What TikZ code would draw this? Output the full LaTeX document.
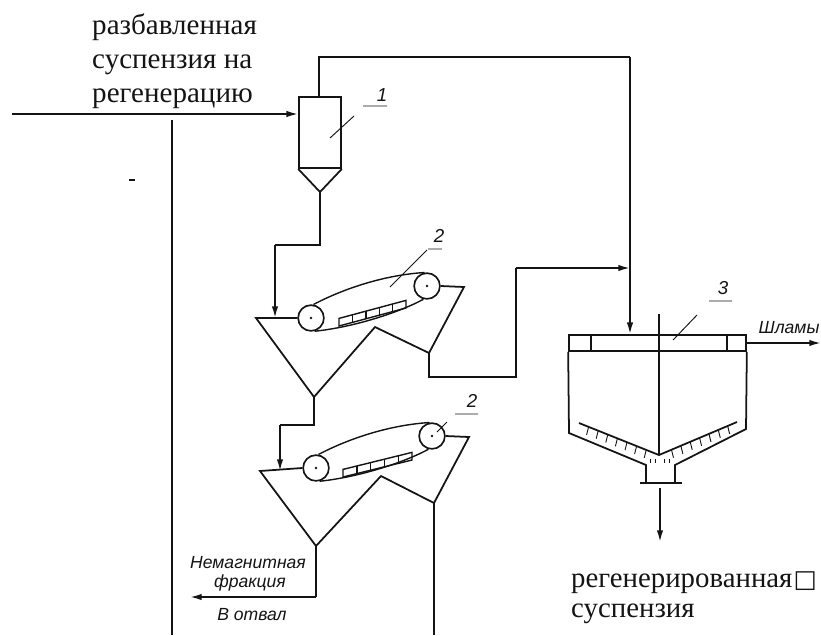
\documentclass[tikz,border=0pt]{standalone}
\usepackage{fontspec}
\setmainfont{Liberation Serif}
\newfontfamily\drawfont{Liberation Sans}
\newfontfamily\boxfont{DejaVu Sans}
\usepackage{xcolor}
\usetikzlibrary{arrows.meta,positioning,calc}
\definecolor{inkblack}{RGB}{20,20,20}
\tikzset{
  flow/.style={line width=1.5pt, inkblack},
  flowin/.style={flow, -{Latex[length=10pt,width=5.5pt]}},
  thinline/.style={line width=0.8pt, inkblack},
  beltline/.style={line width=1.2pt, inkblack},
  roller/.style={circle, draw=inkblack, line width=1.4pt, minimum size=22pt, inner sep=0pt, fill=white},
  caption/.style={font=\fontsize{24.8}{29}\selectfont, align=left, anchor=west, inner sep=0pt, inkblack},
  handtext/.style={font=\drawfont\itshape\fontsize{15}{18}\selectfont, inner sep=0pt, inkblack},
  numlabel/.style={font=\drawfont\itshape\fontsize{16}{19}\selectfont, inner sep=0pt, inkblack}
}
\newcommand{\bucketstrip}[2]{
  \draw[beltline] (#1) -- (#2) -- ([yshift=6.5pt]#2) -- ([yshift=6.5pt]#1) -- cycle;
  \foreach \p in {0.2,0.4,0.6,0.8} \draw[beltline] ($(#1)!\p!(#2)$) -- ++(0,-7.6);
}
\begin{document}
\begin{tikzpicture}[x=0.03cm, y=-0.03cm]
\useasboundingbox (0,0) rectangle (821,635);
\node[caption] (feedtext) at (92,61) {разбавленная\\суспензия на\\регенерацию};
\node[caption, font=\fontsize{24.6}{25.6}\selectfont] (prodtext) at (571,598) {регенерированная\hspace{1pt}{\boxfont\fontsize{21}{20}\selectfont □}\\суспензия};

\node[draw=inkblack, line width=1.5pt, minimum width=35.8pt, minimum height=60.6pt, inner sep=0pt] (cyc) at (320,132.5) {};
\coordinate (cyctip) at (320,192);
\draw[flow] (cyc.south west) -- (cyctip) -- (cyc.south east);

\coordinate (feedstart) at (12,114);
\coordinate (cycin) at (cyc.west |- feedstart);
\draw[flowin] (feedstart) -- (cycin);
\coordinate (pipetop) at (172,120);
\coordinate (pipebot) at (172,635);
\draw[flow] (pipetop) -- (pipebot);
\coordinate (dashl) at (129,180);
\coordinate (dashr) at (135,180);
\draw[beltline] (dashl) -- (dashr);

\node[roller] (rola) at (311,318) {};
\node[roller] (rolb) at (427,286) {};
\node[roller] (rolc) at (316,468) {};
\node[roller] (rold) at (432,436) {};
\foreach \x in {rola,rolb,rolc,rold} \fill[inkblack] (\x.center) circle (1.2pt);

\coordinate (hopa) at (256,318);
\coordinate (hopb) at (464,287);
\coordinate (hopbt) at (429,353);
\coordinate (hopm) at (375,327);
\coordinate (hopat) at (314,397);
\draw[flow] (rolb.east) -- (hopb) -- (hopbt) -- (hopm) -- (hopat) -- (hopa) -- (rola.west);
\draw[beltline] (rola.80) .. controls (345,288) and (385,275) .. (rolb.100);
\draw[beltline] (rola.-75) .. controls (355,327) and (400,312) .. (rolb.-105);
\coordinate (stripa) at (339,326);
\coordinate (stripb) at (406,308);
\bucketstrip{stripa}{stripb}

\coordinate (hopc) at (260,471);
\coordinate (hopd) at (469,437);
\coordinate (hopdt) at (434,503);
\coordinate (hopn) at (381,476);
\coordinate (hopct) at (316,546);
\draw[flow] (rold.east) -- (hopd) -- (hopdt) -- (hopn) -- (hopct) -- (hopc) -- (rolc.west);
\draw[beltline] (rolc.80) .. controls (350,438) and (390,425) .. (rold.100);
\draw[beltline] (rolc.-75) .. controls (360,477) and (405,462) .. (rold.-105);
\coordinate (stripc) at (343,477);
\coordinate (stripd) at (412,460);
\bucketstrip{stripc}{stripd}

\coordinate (bendb) at (320,245);
\coordinate (bendc) at (275,245);
\draw[flow] (cyctip) -- (bendb) -- (bendc);
\draw[flowin] (bendc) -- (bendc |- hopa);
\coordinate (bendd) at (314,425);
\coordinate (bende) at (280,425);
\draw[flow] (hopat) -- (bendd) -- (bende);
\draw[flowin] (bende) -- (bende |- hopc);
\coordinate (tailend) at (434,635);
\draw[flow] (hopdt) -- (tailend);
\coordinate (wastecor) at (316,597);
\coordinate (wasteend) at (190,597);
\draw[flow] (hopct) -- (wastecor);
\draw[flowin] (wastecor) -- (wasteend);
\node[handtext] (wastea) at (248,563) {Немагнитная};
\node[handtext] (wasteb) at (250,583) {фракция};
\node[handtext] (wastec) at (252,615) {В отвал};

\node[draw=inkblack, line width=1.5pt, minimum width=151pt, minimum height=13.6pt, inner sep=0pt] (tanktop) at (657.5,343) {};
\coordinate (wallla) at (569,433);
\coordinate (wallra) at (746,429);
\coordinate (necklt) at (646,465);
\coordinate (neckrt) at (675,465);
\coordinate (necklb) at (646,483);
\coordinate (neckrb) at (675,483);
\coordinate (flangel) at (640,483);
\coordinate (flanger) at (682,483);
\draw[flow] (tanktop.south west) -- (wallla) -- (necklt) -- (necklb);
\draw[flow] (tanktop.south east) -- (wallra) -- (neckrt) -- (neckrb);
\draw[flow] (flangel) -- (flanger);
\coordinate (weirl) at (591,335);
\coordinate (weirr) at (727,335);
\draw[flow] (weirl) -- (weirl |- tanktop.south);
\draw[flow] (weirr) -- (weirr |- tanktop.south);
\coordinate (shafttop) at (659,314);
\coordinate (shafthub) at (659,455);
\draw[flow] (shafttop) -- (shafthub);
\coordinate (rakel) at (579,423);
\coordinate (raker) at (737,422);
\draw[flow] (rakel) -- (shafthub) -- (raker);
\foreach \p in {0.12,0.24,0.36,0.48,0.6,0.72,0.84} {
  \draw[thinline] ($(rakel)!\p!(shafthub)$) -- ++(-2,8);
  \draw[thinline] ($(raker)!\p!(shafthub)$) -- ++(2,8);
}
\foreach \p in {650,655,664,669} \draw[thinline] (\p,459) -- (\p,463);
\coordinate (outtop) at (660,488);
\coordinate (outbot) at (660,542);
\draw[flowin] (outtop) -- (outbot);
\coordinate (slimeend) at (821,343);
\draw[flowin] (tanktop.east) -- (slimeend);
\node[handtext] (slimetext) at (789,328) {Шламы};

\coordinate (overa) at (319,57);
\coordinate (overb) at (630,57);
\coordinate (overc) at (630,268);
\coordinate (backa) at (429,377);
\coordinate (backb) at (516,377);
\coordinate (backc) at (516,268);
\draw[flow] (cyc.north -| overa) -- (overa) -- (overb);
\draw[flowin] (overb) -- (overb |- tanktop.north);
\draw[flow] (hopbt) -- (backa) -- (backb) -- (backc);
\draw[flowin] (backc) -- (overc);

\node[numlabel] (numa) at (382,95) {1};
\node[numlabel] (numb) at (439,236) {2};
\node[numlabel] (numc) at (472,401) {2};
\node[numlabel] (numd) at (723,288) {3};
\draw[thinline] (330,138) -- (354,116) (363,106) -- (387,106);
\draw[thinline] (390,287) -- (427,250) (428,249) -- (442,249);
\draw[thinline] (437,432) -- (447,422) (455,414) -- (478,414);
\draw[thinline] (673,340) -- (697,315) (709,301) -- (732,301);
\end{tikzpicture}
\end{document}
